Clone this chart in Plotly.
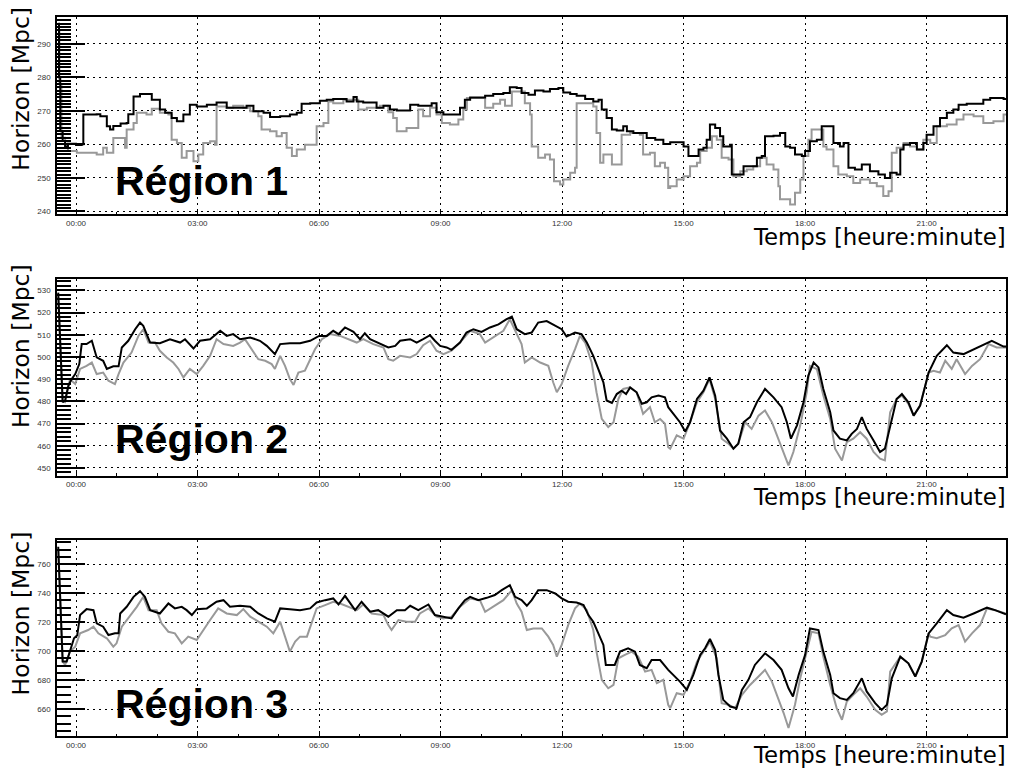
import plotly.graph_objects as go

# ---------------- data (time in hours since 00:00, horizon in Mpc) ----------------
r1_black_t = [-0.44, -0.42, -0.39, -0.33, -0.27, -0.2, 0.0, 0.14, 0.18, 0.51, 0.6, 0.76, 0.84, 0.92, 1.1, 1.25, 1.29, 1.42, 1.58, 1.74, 1.87, 2.07, 2.2, 2.36, 2.49, 2.65, 2.81, 2.98, 3.23, 3.47, 3.72, 4.05, 4.21, 4.38, 4.63, 4.79, 5.04, 5.28, 5.45, 5.57, 5.78, 6.02, 6.19, 6.35,
              6.52, 6.68, 6.85, 6.93, 7.09, 7.3, 7.42, 7.59, 7.75, 7.92, 8.12, 8.25, 8.45, 8.74, 8.78, 8.9, 9.07, 9.4, 9.48, 9.6, 9.73, 9.97, 10.1, 10.3, 10.55, 10.71, 10.88, 11.0, 11.17, 11.33, 11.54, 11.7, 11.91, 12.03, 12.2, 12.36, 12.57, 12.77, 12.9, 12.98, 13.1, 13.23, 13.35, 13.51, 13.6, 13.76, 13.97, 14.09, 14.3, 14.5, 14.67,
              15.0, 15.12, 15.33, 15.37, 15.49, 15.57, 15.65, 15.78, 15.9, 15.98, 16.15, 16.19, 16.35, 16.48, 16.72, 16.81, 16.93, 17.01, 17.22, 17.38, 17.51, 17.63, 17.75, 17.92, 18.0, 18.12, 18.29, 18.41, 18.66, 18.7, 18.86, 18.95, 19.07, 19.23, 19.4, 19.6, 19.81, 19.97, 20.1, 20.26, 20.35, 20.43, 20.59, 20.76, 20.92, 21.0, 21.17, 21.33, 21.5, 21.66, 21.79, 21.99, 22.32, 22.4, 22.57, 22.9, 22.96]
r1_black_v = [296, 280, 264, 261, 259.4, 260.2, 259.8, 260, 268.9, 269, 268.4, 265.4, 264.4, 265.5, 266.2, 266.4, 269, 274.3, 275, 275, 273.3, 270.4, 269.4, 267.9, 266.9, 268.9, 271.8, 271.3, 271.8, 272.5, 270.9, 270.9, 271.5, 269.9, 269.4, 268.2, 268.4, 268.9, 269.4, 272.1, 272.3, 273.0, 273.3, 273.5,
              273.5, 272.8, 274.1, 272.8, 272.5, 272.5, 270.9, 271.5, 270.4, 270.1, 270.1, 271.8, 271.5, 271.5, 272.3, 269.6, 268.9, 268.9, 270.9, 273.3, 274.0, 274.0, 274.5, 275, 275.3, 277.0, 276.8, 275.3, 274.8, 276.1, 275.8, 276.5, 276.8, 275.5, 275, 274.5, 273.5, 272.8, 273.3, 270.4, 267.9, 264.4, 264.1, 265.4, 263.9, 263.4, 263.4, 261.9, 261.4, 260.1, 260.6,
              259.4, 256.5, 256.5, 258.5, 259, 261.4, 265.9, 264.9, 262.4, 259.4, 259.9, 251, 251, 253.5, 253.5, 256, 256.5, 262.4, 262.6, 263.4, 259.4, 259, 257, 256.5, 258, 260.9, 261.4, 265.4, 265.4, 260.4, 259.4, 260.4, 253, 252.5, 254, 252, 251, 250, 251.5, 251, 258.5, 259.9, 260.4, 258.5, 260.4, 262.9, 265.4, 267.9, 269.4, 270.4, 271.8, 272.1, 272.1, 273.3, 273.8, 273.5, 273.5]

r1_grey_t = [-0.44, -0.41, -0.36, -0.27, -0.2, 0.02, 0.43, 0.51, 0.67, 0.76, 0.92, 1.17, 1.21, 1.25, 1.42, 1.5, 1.74, 1.87, 2.07, 2.28, 2.36, 2.49, 2.61, 2.73, 2.9, 3.02, 3.14, 3.31, 3.43, 3.47, 3.72, 3.88, 4.13, 4.3, 4.5, 4.58, 4.79, 4.95, 5.08, 5.2, 5.33, 5.45, 5.65, 5.86, 5.94, 6.11, 6.23, 6.35,
             6.6, 6.85, 6.97, 7.18, 7.5, 7.71, 7.83, 7.92, 8.16, 8.41, 8.45, 8.57, 8.74, 8.9, 9.03, 9.23, 9.44, 9.56, 9.65, 9.89, 10.1, 10.3, 10.47, 10.59, 10.76, 10.96, 11.08, 11.21, 11.25, 11.41, 11.58, 11.7, 11.8, 11.95, 12.03, 12.2, 12.32, 12.36, 12.6, 12.77, 12.85, 12.94, 13.02, 13.23, 13.43, 13.47, 13.68, 13.92, 14.0, 14.17, 14.29, 14.42, 14.54, 14.62,
             14.67, 14.83, 15.0, 15.16, 15.33, 15.41, 15.57, 15.7, 15.82, 15.94, 16.11, 16.23, 16.4, 16.56, 16.72, 16.89, 17.05, 17.22, 17.34, 17.38, 17.51, 17.63, 17.75, 17.88, 17.96, 18.08, 18.16, 18.33, 18.45, 18.53, 18.7, 18.82, 19.03, 19.19, 19.36, 19.6, 19.77, 19.93, 20.06, 20.14, 20.26, 20.43, 20.59, 20.76, 20.92, 21.09, 21.25, 21.5, 21.74, 21.91, 22.16, 22.4, 22.65, 22.9, 22.96]
r1_grey_v = [294, 278, 262, 259.4, 258, 257.5, 257.5, 257, 259, 257.5, 261.9, 261.9, 259, 264.4, 266.4, 269.4, 268.9, 270.6, 269.4, 268.9, 261.4, 260.4, 256, 258, 255, 257, 260.4, 260.9, 259.9, 271.3, 270.9, 271.5, 270.9, 269.9, 268.4, 264.4, 263.9, 262.4, 263.4, 259, 256.5, 258.5, 259.9, 259.9, 265.4, 266.4, 272.8, 272.3,
             273.3, 273.3, 270.4, 270.9, 271.5, 269.6, 267.9, 263.9, 264.9, 264.9, 270.4, 268.4, 270.9, 268.9, 266.4, 265.9, 267.4, 270.4, 273.8, 273.8, 270.9, 272.1, 273.3, 271.5, 275.8, 275.8, 272.3, 268.9, 259.4, 256, 257, 255.5, 249, 248, 249.5, 251.5, 253, 272.3, 272.3, 271.3, 263.4, 254.5, 257, 254, 254, 262.9, 263.4, 262.9, 257, 257.5, 253.5, 254.5, 253, 247,
             247.5, 249.5, 250.5, 253.5, 254.5, 258, 259, 262.4, 261.4, 256, 255.5, 250.5, 252, 252.5, 253.5, 256, 254, 252.5, 247.5, 243.6, 243.6, 242.1, 245.6, 249.5, 256.5, 261.4, 264.4, 264.4, 259.4, 258.5, 253.5, 251, 250.5, 248.5, 249.5, 248.5, 247.5, 244.6, 246, 257.5, 259, 260.4, 259.4, 258.5, 261.4, 260.4, 265.4, 265.9, 267.4, 268.9, 268.4, 266.4, 266.9, 268.9, 268.9]

r2_black_t = [-0.44, -0.33, -0.27, -0.19, -0.11, -0.02, 0.08, 0.14, 0.26, 0.39, 0.51, 0.67, 0.76, 0.92, 1.05, 1.13, 1.29, 1.46, 1.58, 1.66, 1.83, 2.07, 2.32, 2.57, 2.69, 2.9, 3.06, 3.31, 3.56, 3.72, 3.88, 4.05, 4.3, 4.54, 4.71, 4.91, 5.04, 5.28, 5.53, 5.78, 6.0, 6.19, 6.35,
              6.48, 6.64, 6.85, 7.01, 7.13, 7.26, 7.5, 7.71, 7.88, 8.0, 8.25, 8.41, 8.57, 8.74, 8.86, 8.99, 9.15, 9.27, 9.48, 9.64, 9.81, 10.01, 10.22, 10.43, 10.63, 10.76, 10.88, 11.08, 11.25, 11.41, 11.62, 11.83, 11.99, 12.11, 12.32, 12.48, 12.61, 12.77, 12.9, 13.02, 13.1, 13.23, 13.35, 13.47, 13.58, 13.68, 13.84, 13.97, 14.09, 14.21, 14.38, 14.54, 14.62,
              14.91, 15.04, 15.16, 15.33, 15.49, 15.64, 15.78, 15.9, 16.07, 16.23, 16.35, 16.48, 16.64, 16.81, 17.01, 17.22, 17.42, 17.55, 17.65, 17.8, 17.96, 18.08, 18.21, 18.33, 18.45, 18.62, 18.7, 18.86, 19.03, 19.15, 19.28, 19.4, 19.52, 19.69, 19.85, 19.97, 20.1, 20.26, 20.39, 20.55, 20.68, 20.84, 21.05, 21.25, 21.5, 21.66, 21.91, 22.16, 22.4, 22.61, 22.9, 22.96]
r2_black_v = [529, 479.6, 480.4, 487, 490, 492.3, 496.8, 505.8, 505.8, 507.3, 499.8, 498.3, 494.6, 495.8, 495.8, 504.3, 507.3, 512.5, 515.5, 514, 506.5, 506.2, 508, 506.5, 508, 503.8, 507.3, 508, 511.8, 509.5, 510.3, 508, 508.8, 507.3, 505, 501.3, 505.8, 506.2, 506.2, 507.3, 509.5, 509.5, 511.8,
              510.3, 513.3, 511.3, 508, 510.7, 508, 506.2, 504.3, 505, 507.3, 508, 506.5, 508, 509.8, 507.3, 505, 504.3, 503.2, 506.5, 511, 512.5, 511.3, 513.3, 514.7, 517, 518.2, 512.5, 510.3, 511, 515.5, 516.2, 514, 512.5, 509.2, 511, 510.3, 506.5, 500.5, 494.6, 488.6, 480.4, 479.3, 483.3, 484.8, 483.3, 486.3, 484.1, 478.9, 479.6, 481.8, 482.6, 481.8, 477.4,
              470.6, 466.4, 470.6, 481.1, 484.8, 490.8, 482.6, 466.9, 463.2, 458.7, 460.9, 470.6, 472.9, 479.6, 485.6, 481.8, 477.4, 470.6, 463.2, 469.2, 479.6, 491.6, 497.5, 495.3, 485.6, 475.1, 466.9, 463.2, 462.4, 465.4, 467.6, 472.9, 467.6, 462.4, 457.2, 458.7, 469.2, 481.1, 483.3, 479.6, 473.6, 478.1, 493, 500.5, 505.3, 502, 501.3, 503.5, 505.8, 507.3, 504.7, 504.7]

r2_grey_t = [-0.44, -0.33, -0.27, -0.15, -0.02, 0.1, 0.26, 0.39, 0.51, 0.67, 0.8, 0.96, 1.05, 1.17, 1.37, 1.54, 1.66, 1.79, 1.95, 2.07, 2.24, 2.4, 2.53, 2.65, 2.81, 2.98, 3.14, 3.31, 3.47, 3.64, 3.88, 4.05, 4.17, 4.3, 4.5, 4.67, 4.83, 4.91, 5.04, 5.16, 5.28, 5.37, 5.49, 5.65, 5.78, 5.9, 6.07, 6.27,
             6.52, 6.93, 7.09, 7.34, 7.59, 7.71, 7.83, 8.0, 8.25, 8.41, 8.57, 8.74, 8.9, 9.07, 9.27, 9.48, 9.73, 9.97, 10.1, 10.3, 10.55, 10.71, 10.88, 11.0, 11.08, 11.25, 11.46, 11.66, 11.78, 11.87, 11.99, 12.15, 12.32, 12.44, 12.57, 12.73, 12.85, 12.98, 13.14, 13.27, 13.39, 13.51, 13.68, 13.84, 14.0, 14.17, 14.29, 14.42, 14.54, 14.62,
             14.67, 14.83, 15.0, 15.16, 15.33, 15.49, 15.64, 15.78, 15.94, 16.11, 16.23, 16.35, 16.52, 16.68, 16.85, 17.01, 17.18, 17.34, 17.47, 17.59, 17.71, 17.88, 18.04, 18.12, 18.29, 18.45, 18.62, 18.74, 18.91, 19.03, 19.19, 19.36, 19.52, 19.69, 19.85, 19.97, 20.1, 20.26, 20.39, 20.55, 20.68, 20.84, 21.05, 21.17, 21.33, 21.46, 21.62, 21.74, 21.95, 22.12, 22.32, 22.53, 22.73, 22.96]
r2_grey_v = [527, 480, 479.6, 490, 487.8, 494.6, 496, 497.5, 492.3, 493, 489.3, 487.8, 492.3, 497.5, 502, 509.5, 512.5, 506.5, 506.5, 502.8, 499.8, 497.5, 494.6, 490.8, 494.6, 492.3, 496, 500.5, 508, 505.8, 505, 506.5, 508, 504.3, 499, 498.3, 496.8, 494.6, 500.5, 496, 490, 487.4, 493, 493.8, 499, 503.5, 508, 510.3,
             509.5, 506.5, 508, 505.8, 504.3, 499, 498.3, 500.5, 499.8, 501.3, 505.3, 507.3, 502.8, 501.3, 502.8, 506.5, 511.8, 510.3, 506.5, 508.8, 511.8, 517, 510.3, 505.8, 497.5, 499.8, 497.5, 496, 488.6, 484.1, 487.8, 496, 503.5, 509.5, 506.5, 497.5, 484.1, 472.1, 468.4, 470.6, 481.1, 485.6, 486.3, 484.1, 474.4, 477.4, 470.6, 472.1, 469.9, 459.4,
             458.7, 464.7, 463.2, 470.6, 479.6, 484.1, 490, 481.1, 463.2, 460.9, 458.7, 460.9, 470.6, 467.6, 473.6, 475.9, 470.6, 463.2, 457.2, 451.2, 457.2, 469.2, 484.1, 496, 494.6, 482.6, 472.1, 458.7, 453.4, 461.7, 463.2, 466.1, 463.2, 457.2, 454.2, 453.4, 475.1, 481.1, 482.6, 478.9, 473.6, 478.1, 493, 493.8, 493, 498.3, 494.6, 499, 492.3, 496, 499, 505.8, 504.3, 504.3]

r3_black_t = [-0.44, -0.33, -0.23, -0.15, -0.05, 0.03, 0.1, 0.26, 0.43, 0.51, 0.67, 0.8, 0.96, 1.05, 1.09, 1.25, 1.42, 1.58, 1.7, 1.83, 2.07, 2.28, 2.44, 2.61, 2.73, 2.86, 2.98, 3.23, 3.47, 3.64, 3.8, 4.05, 4.3, 4.5, 4.71, 4.91, 5.04, 5.28, 5.53, 5.78, 5.94, 6.15, 6.35,
              6.48, 6.64, 6.89, 7.05, 7.26, 7.46, 7.71, 7.92, 8.12, 8.25, 8.45, 8.7, 8.86, 9.07, 9.27, 9.44, 9.6, 9.73, 9.93, 10.14, 10.34, 10.51, 10.71, 10.84, 11.0, 11.13, 11.25, 11.41, 11.62, 11.83, 11.99, 12.15, 12.36, 12.53, 12.65, 12.77, 12.9, 13.02, 13.08, 13.3, 13.43, 13.63, 13.8, 13.92, 14.09, 14.21, 14.42, 14.62,
              14.91, 15.08, 15.24, 15.41, 15.53, 15.65, 15.78, 15.86, 15.98, 16.15, 16.31, 16.44, 16.6, 16.76, 17.01, 17.22, 17.42, 17.59, 17.7, 17.84, 18.0, 18.12, 18.33, 18.45, 18.62, 18.7, 18.86, 19.03, 19.19, 19.4, 19.52, 19.73, 19.89, 20.02, 20.14, 20.35, 20.55, 20.72, 20.88, 21.05, 21.25, 21.5, 21.66, 21.91, 22.16, 22.49, 22.69, 22.96]
r3_black_v = [772, 692.8, 692.8, 700.8, 708.9, 711, 725, 729, 728.3, 719.2, 716.9, 711.1, 712.3, 712.3, 726, 730.6, 737.5, 741.4, 737.5, 728.3, 726, 732.9, 729.5, 730.6, 728.3, 724.9, 729, 729.5, 734.1, 735.2, 730.6, 731.3, 730.6, 726, 722.6, 720.3, 729.5, 729, 728.3, 729.5, 733.6, 735.2, 736.4,
              732.2, 738.2, 728.3, 734.1, 727.2, 728.3, 723.8, 728.3, 728.3, 731.3, 728.3, 732.2, 724.9, 723.8, 722.6, 729.5, 735.2, 737.5, 735.2, 736.8, 738.7, 742.1, 745.5, 737.5, 735.2, 731.3, 735.2, 742.1, 742.1, 739.8, 736.4, 734.1, 733.6, 731.8, 724.9, 720.3, 712.3, 704.3, 690.5, 690.5, 699.7, 702, 699.7, 690.5, 688.2, 693.9, 693.9, 687.1,
              679, 673.3, 683.6, 697.4, 702, 708.4, 700.8, 683.6, 666.4, 661.8, 660.7, 673.3, 680.2, 690.5, 698.5, 693.9, 687.1, 674.4, 668.7, 683.6, 697.4, 715.7, 714.6, 699.7, 683.6, 671, 667.6, 666.4, 671, 681.3, 672.2, 664.1, 659.5, 663, 681.3, 696.2, 691.6, 682.5, 692.8, 712.3, 719.2, 728.3, 724.9, 723.1, 726, 730, 728.3, 725.4]

r3_grey_t = [-0.44, -0.33, -0.27, -0.15, -0.02, 0.1, 0.3, 0.43, 0.55, 0.76, 0.92, 1.0, 1.13, 1.29, 1.5, 1.66, 1.79, 1.99, 2.11, 2.28, 2.44, 2.61, 2.77, 2.98, 3.14, 3.31, 3.51, 3.72, 3.97, 4.13, 4.3, 4.5, 4.71, 4.87, 5.04, 5.16, 5.28, 5.41, 5.53, 5.7, 5.82, 5.94, 6.15, 6.35,
             6.52, 6.93, 7.09, 7.3, 7.59, 7.71, 7.79, 7.96, 8.16, 8.37, 8.49, 8.7, 8.9, 9.07, 9.27, 9.48, 9.73, 9.97, 10.1, 10.3, 10.55, 10.76, 10.88, 11.0, 11.13, 11.29, 11.5, 11.66, 11.78, 11.87, 11.99, 12.15, 12.32, 12.44, 12.61, 12.77, 12.85, 12.98, 13.14, 13.27, 13.39, 13.55, 13.72, 13.88, 14.05, 14.21, 14.34, 14.5, 14.62,
             14.67, 14.83, 15.0, 15.16, 15.33, 15.49, 15.65, 15.82, 15.94, 16.11, 16.27, 16.44, 16.64, 16.85, 17.01, 17.18, 17.34, 17.47, 17.59, 17.75, 17.88, 18.04, 18.16, 18.33, 18.45, 18.62, 18.78, 18.91, 19.03, 19.19, 19.36, 19.52, 19.73, 19.89, 20.02, 20.1, 20.35, 20.55, 20.72, 20.88, 21.05, 21.09, 21.25, 21.46, 21.62, 21.79, 21.95, 22.12, 22.32, 22.49, 22.69, 22.96]
r3_grey_v = [770, 693, 690.5, 699.7, 703.1, 712.3, 714.6, 716.9, 712.3, 708.9, 703.1, 705.4, 716.9, 722.6, 730.6, 737.5, 728.3, 728.3, 719.2, 713.4, 712.3, 705.4, 710, 707.7, 714.6, 721.5, 729.5, 726, 724.9, 729, 723.8, 720.3, 716.9, 712.3, 720.3, 710, 699.7, 706.6, 710, 710, 720.3, 729.5, 731.8, 734.1,
             732.9, 728.3, 732.2, 726, 724.9, 718, 714.6, 721.5, 720.3, 720.3, 726, 729.5, 723.8, 722.6, 723.8, 730.6, 736.4, 735.2, 727.2, 730.6, 735.2, 742.1, 732.9, 727.2, 714.6, 715.7, 715.7, 710, 704.3, 696.2, 704.3, 718, 729.5, 732.9, 728.3, 714.6, 699.7, 680.2, 674.4, 676.7, 695.1, 697.4, 699.7, 696.2, 685.9, 687.1, 677.9, 680.2, 663,
             660.7, 671, 669.9, 679, 692.8, 699.7, 706.6, 695.1, 664.1, 663, 660.7, 669.9, 676.7, 682.5, 687.1, 679, 667.6, 657.3, 647, 663, 681.3, 699.7, 713.4, 712.3, 696.2, 676.7, 660.7, 652.7, 665.3, 669.9, 674.4, 668.7, 659.5, 656.1, 658.4, 685.9, 696.2, 691.6, 682.5, 692.8, 712.3, 710, 708.9, 711.1, 715.7, 718, 706.6, 712.3, 718, 729.5, 728.3, 726]

hour_ticks = [0, 3, 6, 9, 12, 15, 18, 21]
hour_labels = ["00:00", "03:00", "06:00", "09:00", "12:00", "15:00", "18:00", "21:00"]
region_names = ["Région 1", "Région 2", "Région 3"]
y_title = "Horizon [Mpc]"
x_title = "Temps [heure:minute]"

# ---------------- layout helpers ----------------
W, H = 1011, 769
def px_x(x):
    return x / W
def px_y(y):
    return 1 - y / H

panels = [
    dict(bt=r1_black_t, bv=r1_black_v, gt=r1_grey_t, gv=r1_grey_v, top=17, bottom=215,
         yrange=[239.1, 298.0], dtick=10, minor=1, shape="hv", ytitle_c=89, xtitle_c=238, reg_c=181),
    dict(bt=r2_black_t, bv=r2_black_v, gt=r2_grey_t, gv=r2_grey_v, top=280, bottom=477,
         yrange=[446.5, 535.0], dtick=10, minor=2, shape="linear", ytitle_c=347, xtitle_c=498, reg_c=440),
    dict(bt=r3_black_t, bv=r3_black_v, gt=r3_grey_t, gv=r3_grey_v, top=541.7, bottom=738.3,
         yrange=[641.2, 776.5], dtick=20, minor=5, shape="linear", ytitle_c=615, xtitle_c=757, reg_c=706),
]

fig = go.Figure()
annotations = []
x_left, x_right = 57, 1006
xrange_h = [-0.47, 22.96]

for i, p in enumerate(panels):
    n = "" if i == 0 else str(i + 1)
    fig.add_trace(go.Scatter(x=p["gt"], y=p["gv"], mode="lines", line=dict(color="#999999", width=2, shape=p["shape"]),
                             xaxis="x" + n, yaxis="y" + n, showlegend=False, hoverinfo="skip"))
    fig.add_trace(go.Scatter(x=p["bt"], y=p["bv"], mode="lines", line=dict(color="#000000", width=2, shape=p["shape"]),
                             xaxis="x" + n, yaxis="y" + n, showlegend=False, hoverinfo="skip"))
    dom_y = [px_y(p["bottom"]), px_y(p["top"])]
    common = dict(showline=True, linecolor="black", linewidth=1.5, mirror=True,
                  showgrid=True, gridcolor="black", gridwidth=1, griddash="2px,4px",
                  zeroline=False, ticks="inside", tickcolor="black",
                  tickfont=dict(family="Liberation Sans", size=8, color="#333333"))
    fig.layout["xaxis" + n] = dict(common, domain=[px_x(x_left), px_x(x_right)], anchor="y" + n,
                                   range=xrange_h, tickmode="array", tickvals=hour_ticks, ticktext=hour_labels,
                                   ticklen=6, tickwidth=1,
                                   minor=dict(tickmode="linear", tick0=0, dtick=1, ticks="inside", ticklen=3,
                                              tickcolor="black", showgrid=False))
    fig.layout["yaxis" + n] = dict(common, domain=dom_y, anchor="x" + n, range=p["yrange"],
                                   tickmode="linear", tick0=0, dtick=p["dtick"], ticklen=28, tickwidth=1.5,
                                   ticklabelstandoff=3,
                                   minor=dict(tickmode="linear", tick0=0, dtick=p["minor"], ticks="inside",
                                              ticklen=14, tickcolor="black", showgrid=False))
    annotations.append(dict(text=y_title, textangle=-90, xref="paper", yref="paper",
                            x=px_x(21), y=px_y(p["ytitle_c"]), xanchor="center", yanchor="middle",
                            showarrow=False, font=dict(family="DejaVu Sans", size=23.5, color="black")))
    annotations.append(dict(text=x_title, xref="paper", yref="paper",
                            x=px_x(1008), y=px_y(p["xtitle_c"]), xanchor="right", yanchor="middle",
                            showarrow=False, font=dict(family="DejaVu Sans", size=22.8, color="black")))
    annotations.append(dict(text="<b>" + region_names[i] + "</b>", xref="paper", yref="paper",
                            x=px_x(113), y=px_y(p["reg_c"]), xanchor="left", yanchor="middle",
                            showarrow=False, font=dict(family="Liberation Sans", size=41, color="black")))

fig.update_layout(width=W, height=H, autosize=False, margin=dict(l=0, r=0, t=0, b=0),
                  paper_bgcolor="white", plot_bgcolor="white", annotations=annotations,
                  showlegend=False)

fig.write_html("out.html", config={"displayModeBar": False},
               post_script="document.body.style.margin='0px';")
